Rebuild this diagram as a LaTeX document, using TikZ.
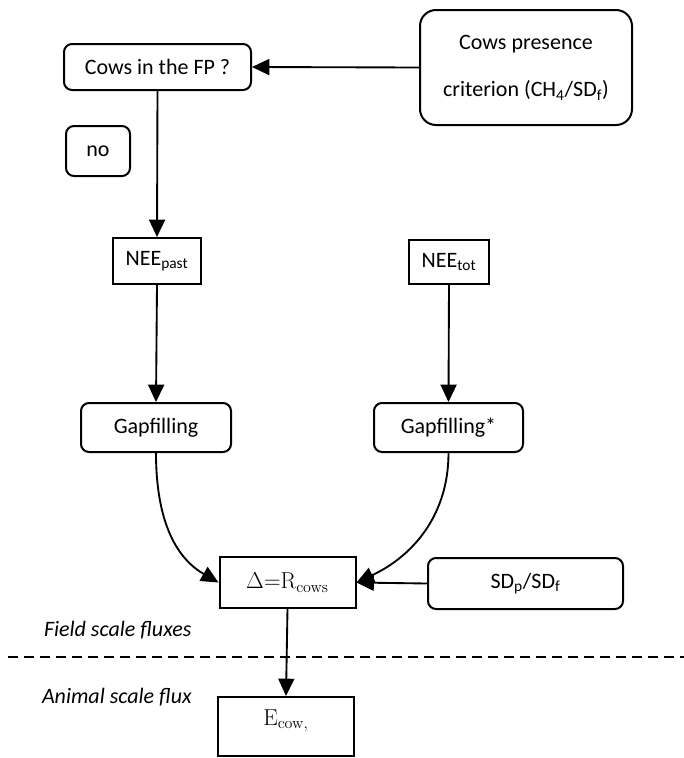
\documentclass[tikz,border=0pt]{standalone}
\usepackage[no-math]{fontspec}
\setmainfont{Carlito}
\usetikzlibrary{arrows.meta}
\begin{document}
\begin{tikzpicture}[x=0.75pt,y=-0.75pt,
  every node/.style={font=\fontsize{16.5}{19.8}\selectfont, inner sep=0pt, line width=1.5pt},
  rbox/.style={draw, rounded corners=6pt},
  sbox/.style={draw},
  conn/.style={line width=1.4pt, -{Triangle[length=13pt,width=12pt]}},
  lbl/.style={font=\fontsize{16.5}{19.8}\selectfont\itshape, anchor=west}
]
\useasboundingbox (0,0) rectangle (684,758);
\node[rbox, minimum width=187*0.75pt, minimum height=46*0.75pt] (fp) at (157.5,67) {Cows in the FP ?};
\node[rbox, rounded corners=12pt, minimum width=212*0.75pt, minimum height=115*0.75pt, align=center] (crit) at (526,67.5) {Cows presence\\[16pt]criterion (CH\textsubscript{4}/SD\textsubscript{f})};
\node[rbox, minimum width=64*0.75pt, minimum height=50*0.75pt] (no) at (98,151) {no};
\node[sbox, minimum width=88*0.75pt, minimum height=46*0.75pt] (neep) at (157,261) {NEE\textsubscript{past}};
\node[sbox, minimum width=80*0.75pt, minimum height=44*0.75pt] (neet) at (449,262) {NEE\textsubscript{tot}};
\node[rbox, minimum width=150*0.75pt, minimum height=49*0.75pt] (gap) at (156,427.5) {Gapfilling};
\node[rbox, minimum width=149*0.75pt, minimum height=49*0.75pt] (gaps) at (448.5,427.5) {Gapfilling*};
\node[sbox, minimum width=136*0.75pt, minimum height=51*0.75pt] (delta) at (287.5,582.5) {$\Delta{=}\mathrm{R}_{\mathrm{cows}}$};
\node[rbox, minimum width=195*0.75pt, minimum height=51*0.75pt] (sd) at (525.5,583.5) {SD\textsubscript{p}/SD\textsubscript{f}};
\node[sbox, minimum width=136*0.75pt, minimum height=59*0.75pt, text depth=14pt] (ecow) at (286,726.5) {$\mathrm{E}_{\mathrm{cow,}}$};
\node[lbl] (field) at (43,630) {Field scale fluxes};
\node[lbl] (animal) at (41,697) {Animal scale flux};
\coordinate (dl) at (8,657);
\coordinate (dr) at (684,657);
\draw[line width=1.3pt, dash pattern=on 7.5pt off 4.5pt] (dl) -- (dr);
\draw[conn] (crit.west) -- (fp.east);
\draw[conn] (fp.south) -- (neep.north);
\draw[conn] (neep.south) -- (gap.north);
\draw[conn] (neet.south) -- (gaps.north);
\draw[conn] (gap.south) to[out=-90,in=150] (delta.west);
\draw[conn] (gaps.south) to[out=-90,in=25] (delta.east);
\draw[conn] (sd.west) -- (delta.east);
\draw[conn] (delta.south) -- (ecow.north);
\end{tikzpicture}
\end{document}
